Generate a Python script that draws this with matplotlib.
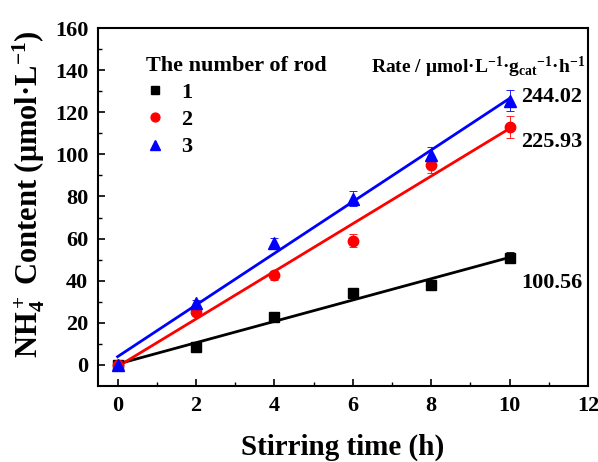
import numpy as np
import matplotlib
matplotlib.use("Agg")
import matplotlib.pyplot as plt
from matplotlib.lines import Line2D

plt.rcParams['font.family'] = ['Liberation Serif', 'DejaVu Serif']
plt.rcParams['font.weight'] = 'bold'
plt.rcParams['mathtext.fontset'] = 'custom'
plt.rcParams['mathtext.rm'] = 'Liberation Serif:bold'
plt.rcParams['mathtext.it'] = 'Liberation Serif:italic:bold'
plt.rcParams['mathtext.bf'] = 'Liberation Serif:bold'

time_h = [0, 2, 4, 6, 8, 10]
rod1 = [0, 8.5, 23, 34, 38, 51]
rod2 = [0, 25, 42.5, 59, 95, 113]
rod3 = [0, 29.5, 58, 79, 99.5, 125.5]
err1 = [1.0, 1.5, 1.5, 1.5, 2.0, 2.5]
err2 = [1.0, 1.5, 2.0, 3.0, 4.0, 5.0]
err3 = [1.0, 1.5, 2.5, 3.5, 4.0, 5.0]
labels = ['1', '2', '3']
rates = ['100.56', '225.93', '244.02']
colors = ['black', 'red', 'blue']
markers = ['s', 'o', '^']
msizes = [6.5, 7.5, 8.5]

fig = plt.figure(figsize=(5.98, 4.62), dpi=100)
ax = fig.add_axes([98/598, (462-386)/462, (588-98)/598, (386-28)/462])

series = [rod1, rod2, rod3]
errs = [err1, err2, err3]
x = np.array(time_h, dtype=float)
for y, e, c, m, ms in zip(series, errs, colors, markers, msizes):
    y = np.array(y)
    ax.errorbar(x, y, yerr=e, fmt=m, color=c, ms=ms, capsize=3, elinewidth=0.6,
                capthick=0.6, zorder=3)
    p = np.polyfit(x, y, 1)
    ax.plot(x[[0, -1]], np.polyval(p, x[[0, -1]]), color=c, lw=2, zorder=2)

ax.set_xlim(-0.5, 12)
ax.set_ylim(-10, 160)
ax.set_xticks(np.arange(0, 13, 2))
ax.set_xticks(np.arange(1, 12, 2), minor=True)
ax.set_yticks(np.arange(0, 161, 20))
ax.set_yticks(np.arange(10, 160, 20), minor=True)
ax.tick_params(which='major', direction='in', length=5, width=1.2, labelsize=16, pad=7)
ax.tick_params(which='minor', direction='in', length=3, width=1.0)
for s in ax.spines.values():
    s.set_linewidth(1.5)
for lab in ax.get_xticklabels() + ax.get_yticklabels():
    lab.set_fontweight('bold')

ax.set_xlabel('Stirring time (h)', fontsize=21, fontweight='bold', labelpad=13)
ax.set_ylabel(r'NH$_4^+$ Content (μmol·L$^{-1}$)', fontsize=22,
              fontweight='bold')
ax.yaxis.set_label_coords(-0.105, 0.535)

handles = [Line2D([], [], ls='none', marker=m, color=c, ms=ms)
           for m, c, ms in zip(markers, colors, msizes)]
leg = ax.legend(handles, labels, title='The number of rod', loc='upper left',
                bbox_to_anchor=(0.07, 0.96), frameon=False, fontsize=16,
                title_fontproperties={'weight': 'bold', 'size': 16},
                handlelength=0.8, handletextpad=0.8, labelspacing=0.3,
                markerscale=0.85, borderaxespad=0.2)
leg._legend_box.align = 'left'

ax.text(0.995, 0.89, r'Rate / μmol·L$^{-1}$·g$_{\rm cat}$$^{-1}$·h$^{-1}$',
        transform=ax.transAxes, ha='right', va='center', fontsize=14, fontweight='bold')
ax.text(10.3, 127, rates[2], fontsize=16, fontweight='bold', va='center')
ax.text(10.3, 106, rates[1], fontsize=16, fontweight='bold', va='center')
ax.text(10.3, 39, rates[0], fontsize=16, fontweight='bold', va='center')

fig.savefig('out.png', dpi=100)
